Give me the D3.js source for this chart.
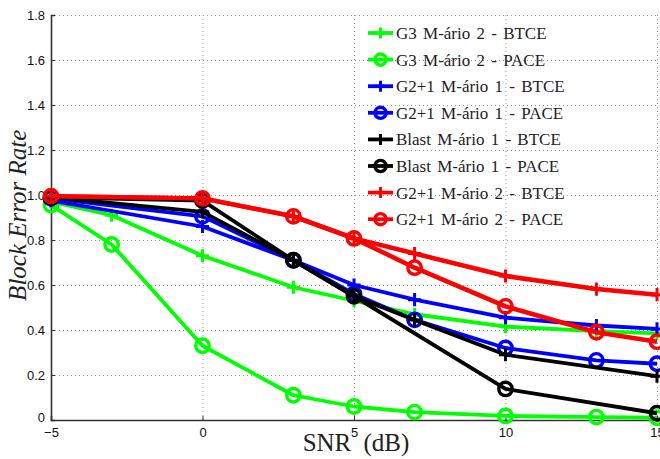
<!DOCTYPE html>
<html>
<head>
<meta charset="utf-8">
<script src="https://cdn.jsdelivr.net/npm/d3@7"></script>
<style>
  body { margin: 0; background: #fff; overflow: hidden; }
  svg { display: block; }
  .serif { font-family: "Liberation Serif", "Times New Roman", "DejaVu Serif", serif; }
  .sans { font-family: "Liberation Sans", Arial, sans-serif; }
</style>
</head>
<body>
<svg id="chart" width="660" height="459"></svg>
<script>
// SNR points (dB); null = no sample for that series
const snr = [-5, -3, 0, 3, 5, 7, 10, 13, 15];

const g3BTCE    = [0.97, 0.91, 0.73, 0.59, 0.53, 0.47, 0.415, 0.395, 0.385];
const g3PACE    = [0.955, 0.78, 0.33, 0.11, 0.06, 0.035, 0.018, 0.013, 0.01];
const g21m1BTCE = [0.975, null, 0.86, 0.71, 0.60, 0.535, 0.455, 0.42, 0.405];
const g21m1PACE = [0.985, null, 0.905, 0.71, 0.56, 0.445, 0.32, 0.265, 0.25];
const blastBTCE = [0.99, null, 0.925, 0.71, 0.55, 0.445, 0.29, null, 0.195];
const blastPACE = [0.99, null, 0.975, 0.71, 0.55, null, 0.138, null, 0.03];
const g21m2BTCE = [0.995, null, 0.985, 0.905, 0.807, 0.74, 0.64, 0.582, 0.557];
const g21m2PACE = [0.995, null, 0.985, 0.905, 0.807, 0.677, 0.505, 0.39, 0.348];

const xTicks = [-5, 0, 5, 10, 15];
const yTicks = [0, 0.2, 0.4, 0.6, 0.8, 1, 1.2, 1.4, 1.6, 1.8];

const series = [
  { name: 'G3 M-ário 2 - BTCE',   values: g3BTCE,    color: '#00ff00', marker: 'plus' },
  { name: 'G3 M-ário 2 - PACE',   values: g3PACE,    color: '#00ff00', marker: 'circle' },
  { name: 'G2+1 M-ário 1 - BTCE', values: g21m1BTCE, color: '#0000ff', marker: 'plus' },
  { name: 'G2+1 M-ário 1 - PACE', values: g21m1PACE, color: '#0000ff', marker: 'circle' },
  { name: 'Blast M-ário 1 - BTCE', values: blastBTCE, color: '#000000', marker: 'plus' },
  { name: 'Blast M-ário 1 - PACE', values: blastPACE, color: '#000000', marker: 'circle' },
  { name: 'G2+1 M-ário 2 - BTCE', values: g21m2BTCE, color: '#ff0000', marker: 'plus' },
  { name: 'G2+1 M-ário 2 - PACE', values: g21m2PACE, color: '#ff0000', marker: 'circle' },
];

const svg = d3.select('#chart');
const x = d3.scaleLinear().domain([-5, 15]).range([51, 657]);
const y = d3.scaleLinear().domain([0, 1.8]).range([420, 15]);

// grid (dotted)
const grid = svg.append('g').attr('stroke', '#999').attr('stroke-width', 1).attr('stroke-dasharray', '1,3');
grid.selectAll('.gx').data(xTicks.slice(1)).join('line')
  .attr('x1', d => x(d) + 0.5).attr('x2', d => x(d) + 0.5)
  .attr('y1', y(0)).attr('y2', y(1.8));
grid.selectAll('.gy').data(yTicks.slice(1)).join('line')
  .attr('x1', x(-5)).attr('x2', x(15))
  .attr('y1', d => Math.round(y(d)) + 0.5).attr('y2', d => Math.round(y(d)) + 0.5);

// axes
const xAxis = svg.append('g')
  .attr('transform', `translate(0, ${y(0)})`)
  .call(d3.axisBottom(x).tickValues(xTicks).tickSize(-4).tickPadding(8).tickFormat(d3.format('d')));
const yAxis = svg.append('g')
  .attr('transform', `translate(${x(-5)}, 0)`)
  .call(d3.axisLeft(y).tickValues(yTicks).tickSize(-4).tickPadding(6).tickFormat(d => d === 0 ? '0' : d3.format('.1f')(d)));
[xAxis, yAxis].forEach(a => {
  a.attr('font-family', null).attr('font-size', null);
  a.select('.domain').attr('stroke', '#333').attr('stroke-width', 1.6);
  a.selectAll('.tick line').attr('stroke', '#333');
  a.selectAll('.tick text').attr('class', 'sans').attr('font-size', 13).attr('fill', '#111');
});
xAxis.selectAll('.tick text').text(d => d < 0 ? '\u2212' + Math.abs(d) : d);
yAxis.select('.tick text').attr('dy', '0.15em');

// lines + markers
const line = d3.line()
  .defined(d => d[1] !== null)
  .x(d => x(d[0])).y(d => y(d[1]));

function drawMarker(sel, kind, color, size) {
  if (kind === 'circle') {
    sel.append('circle').attr('r', size * 0.56).attr('fill', 'none')
      .attr('stroke', color).attr('stroke-width', 3.4);
  } else {
    sel.append('path').attr('d', `M${-size * 0.55},0H${size * 0.55}M0,${-size * 0.55}V${size * 0.55}`)
      .attr('stroke', color).attr('stroke-width', 3);
  }
}

series.forEach(s => {
  const pts = snr.map((v, i) => [v, s.values[i]]).filter(d => d[1] !== null);
  const gs = svg.append('g');
  gs.append('path').datum(pts)
    .attr('d', line)
    .attr('fill', 'none')
    .attr('stroke', s.color)
    .attr('stroke-width', s.color === '#ff0000' ? 4.5 : 3.8)
    .attr('stroke-linejoin', 'round');
  pts.forEach(p => {
    const m = gs.append('g').attr('transform', `translate(${x(p[0])}, ${y(p[1])})`);
    drawMarker(m, s.marker, s.color, 12);
  });
});

// legend
const legend = svg.append('g').attr('transform', 'translate(368, 33)');
series.forEach((s, i) => {
  const row = legend.append('g').attr('transform', `translate(0, ${i * 26.6})`);
  row.append('line').attr('x1', 0).attr('x2', 25).attr('y1', 0).attr('y2', 0)
    .attr('stroke', s.color).attr('stroke-width', 3.8);
  const m = row.append('g').attr('transform', 'translate(12.5, 0)');
  drawMarker(m, s.marker, s.color, 10);
  row.append('text').attr('class', 'serif').attr('x', 28).attr('y', 0).attr('dy', '0.35em')
    .attr('font-size', 17).attr('fill', '#222')
    .attr('word-spacing', 2)
    .text(s.name);
});

// axis titles
svg.append('text').attr('class', 'serif')
  .attr('transform', `translate(26, ${y(0.91)}) rotate(-90)`)
  .attr('text-anchor', 'middle')
  .attr('font-style', 'italic').attr('font-size', 25).attr('fill', '#222')
  .text('Block Error Rate');
svg.append('text').attr('class', 'serif')
  .attr('x', 356).attr('y', 451)
  .attr('text-anchor', 'middle')
  .attr('font-size', 25).attr('fill', '#222')
  .attr('word-spacing', 6)
  .text('SNR (dB)');
</script>
</body>
</html>
